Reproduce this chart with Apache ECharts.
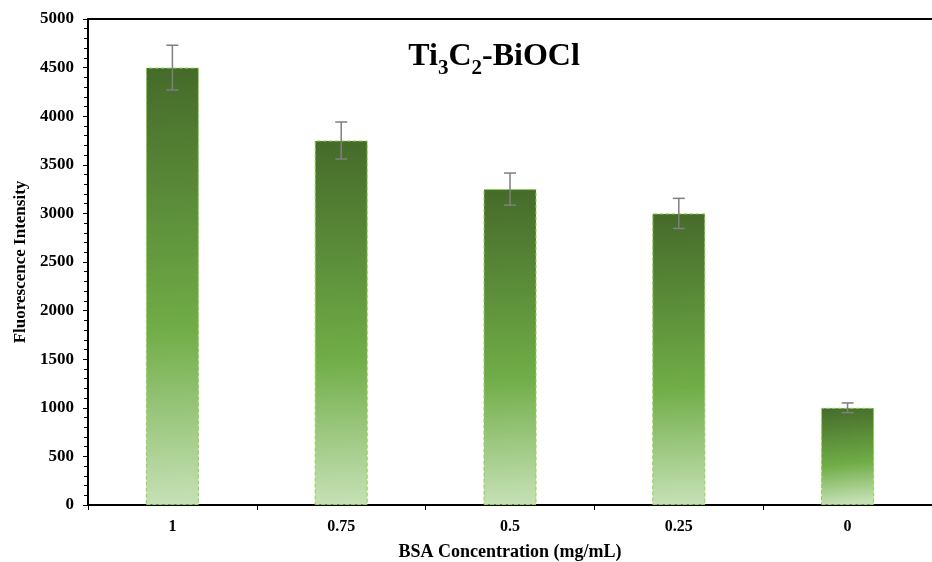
<!DOCTYPE html>
<html><head><meta charset="utf-8">
<script src="https://cdn.jsdelivr.net/npm/echarts@6/dist/echarts.min.js"></script>
<style>html,body{margin:0;padding:0;background:#fff;overflow:hidden}#c{width:932px;height:562px}</style>
</head><body><div id="c"></div>
<script>
var categories = ['1', '0.75', '0.5', '0.25', '0'];
var values = [4500, 3750, 3250, 3000, 1000];
var errors = [230, 190, 165, 155, 50];
var yTicks = [0, 500, 1000, 1500, 2000, 2500, 3000, 3500, 4000, 4500, 5000];

var FONT = '"Liberation Serif", "Times New Roman", serif';
var chart = echarts.init(document.getElementById('c'));

var barGrad = new echarts.graphic.LinearGradient(0, 0, 0.2, 1, [
  {offset: 0, color: '#456a2a'},
  {offset: 0.6, color: '#70ad47'},
  {offset: 1, color: '#c6e1b6'}
]);

chart.setOption({
  animation: false,
  grid: {left: 88, right: 0, top: 19, bottom: 57, containLabel: false, outerBoundsMode: 'none'},
  title: {
    text: '{t|Ti}{s|3}{t|C}{s|2}{t|-BiOCl}',
    left: 489, top: 36, textAlign: 'center',
    textStyle: {
      rich: {
        t: {fontFamily: FONT, fontWeight: 'bold', fontSize: 32, color: '#000', verticalAlign: 'bottom', padding: [0, 0, 6, 0]},
        s: {fontFamily: FONT, fontWeight: 'bold', fontSize: 21, color: '#000', verticalAlign: 'bottom'}
      }
    }
  },
  xAxis: [{
    type: 'category', data: categories,
    axisLine: {lineStyle: {color: '#000', width: 2}},
    axisTick: {alignWithLabel: true, length: 5, lineStyle: {color: '#000'}},
    axisLabel: {fontFamily: FONT, fontWeight: 'bold', fontSize: 16, color: '#000', margin: 14},
    name: 'BSA Concentration (mg/mL)', nameLocation: 'middle', nameGap: 38,
    nameTextStyle: {fontFamily: FONT, fontWeight: 'bold', fontSize: 18, color: '#000'}
  }, {
    type: 'category', data: categories, position: 'bottom',
    axisLine: {show: false},
    axisTick: {show: true, length: 5, lineStyle: {color: '#000'}},
    axisLabel: {show: false}
  }, {
    type: 'category', data: categories, position: 'top',
    axisLine: {show: true, lineStyle: {color: '#000', width: 2}},
    axisTick: {show: false}, axisLabel: {show: false}
  }],
  yAxis: {
    type: 'value', min: 0, max: 5000, interval: 500,
    axisLine: {show: true, lineStyle: {color: '#000', width: 2}},
    axisTick: {show: true, inside: false, length: 5, lineStyle: {color: '#000'}},
    minorTick: {show: true, splitNumber: 5, length: 4, lineStyle: {color: '#000'}},
    splitLine: {show: false},
    axisLabel: {fontFamily: FONT, fontWeight: 'bold', fontSize: 17, color: '#000', margin: 14,
      formatter: function (v) { return yTicks.indexOf(v) >= 0 ? String(v) : ''; }},
    name: 'Fluorescence Intensity', nameLocation: 'middle', nameGap: 58,
    nameTextStyle: {fontFamily: FONT, fontWeight: 'bold', fontSize: 17, color: '#000'}
  },
  series: [{
    type: 'bar', data: values, barWidth: 53,
    itemStyle: {color: barGrad, borderColor: '#92d050', borderWidth: 1, borderType: 'dashed'}
  }, {
    type: 'custom',
    renderItem: function (params, api) {
      var i = api.value(0);
      var v = api.value(1), e = api.value(2);
      var top = api.coord([i, v + e]);
      var bot = api.coord([i, v - e]);
      var hw = 6;
      var st = {stroke: '#7f7f7f', lineWidth: 1.5};
      return {type: 'group', children: [
        {type: 'line', shape: {x1: top[0], y1: top[1], x2: bot[0], y2: bot[1]}, style: st},
        {type: 'line', shape: {x1: top[0] - hw, y1: top[1], x2: top[0] + hw, y2: top[1]}, style: st},
        {type: 'line', shape: {x1: bot[0] - hw, y1: bot[1], x2: bot[0] + hw, y2: bot[1]}, style: st}
      ]};
    },
    data: values.map(function (v, i) { return [i, v, errors[i]]; }),
    z: 5
  }]
});
</script></body></html>
